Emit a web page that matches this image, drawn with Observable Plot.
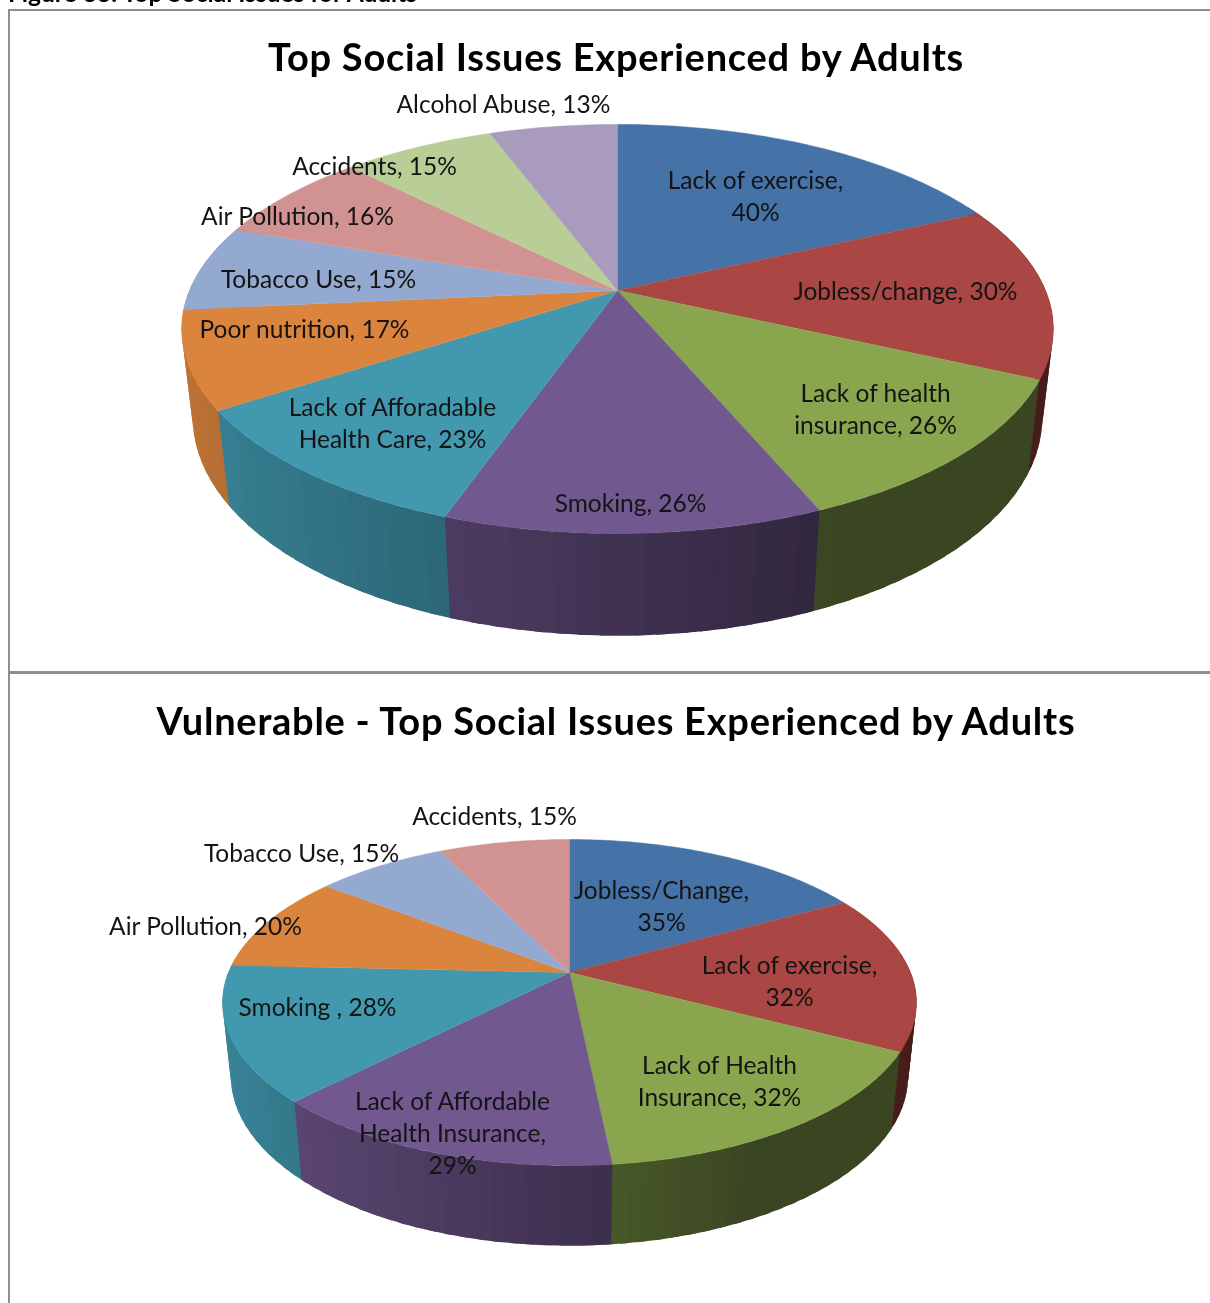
<!DOCTYPE html>
<html><head><meta charset="utf-8">
<script src="https://cdn.jsdelivr.net/npm/d3@7"></script>
<script src="https://cdn.jsdelivr.net/npm/@observablehq/plot@0.6"></script>
<style>
html,body{margin:0;padding:0;background:#fff;overflow:hidden;width:1210px;height:1303px}
#page{position:relative;width:1210px;height:1303px;overflow:hidden;font-family:Lato,sans-serif;filter:blur(0.35px)}
.rule{position:absolute;background:#8e8e8e}
.title{position:absolute;left:0;width:1232px;text-align:center;font-weight:700;color:#000;white-space:nowrap}
#cap{position:absolute;left:8px;top:-19px;font-size:24.5px;line-height:24px;font-weight:700;color:#000;white-space:nowrap}
svg{position:absolute;left:0;background:transparent}
</style></head><body><div id="page"></div>
<script>
const palette = ["#4572a7","#aa4643","#89a54e","#71588f","#4198af","#db843d","#93a9cf","#d19392","#b9cd96","#a99bbd"];

// slice sizes as measured from the slice boundaries; the printed labels round them
const adultValues = [40,30.4,26,26,23,17,15,16,15,12.6];
const adultLabels = ["Lack of exercise,\n40%","Jobless/change, 30%","Lack of health\ninsurance, 26%","Smoking, 26%","Lack of Afforadable\nHealth Care, 23%","Poor nutrition, 17%","Tobacco Use, 15%","Air Pollution, 16%","Accidents, 15%","Alcohol Abuse, 13%"];
const adultLabelX = [755,905,875,630,392,304,318,297,374,503];
const adultLabelY = [196,291,409,503,423,329,279,216,166,104];

const vulnerableValues = [35,32.3,32.35,28.85,27.55,20,15,15];
const vulnerableLabels = ["Jobless/Change,\n35%","Lack of exercise,\n32%","Lack of Health\nInsurance, 32%","Lack of Affordable\nHealth Insurance,\n29%","Smoking , 28%","Air Pollution, 20%","Tobacco Use, 15%","Accidents, 15%"];
const vulnerableLabelX = [661,789,719,452,317,205,301,494];
const vulnerableLabelY = [906,981,1081,1133,1007,926,853,816];

// perspective camera of each pie, in page pixels
const adultCamera = {cx:617, cy:290, k:428, a:197.3, c:-0.188, vanish:3870, t0:0.0274, t1:0.0000256, y0:408};
const vulnerableCamera = {cx:569, cy:972, k:341, a:157.5, c:-0.184, vanish:4100, t0:0.026, t1:0.00002, y0:1101};

const shade = d3.scaleLinear().domain([-1,-0.4,0.45,1]).range([0.88,0.7,0.42,0.42]).clamp(true);
function darker(col,f){const c=d3.rgb(col);return d3.rgb(c.r*f,c.g*f,c.b*f).formatHex();}

function rim(cam,th){
  const u=Math.sin(th), v=-Math.cos(th), d=1+cam.c*v;
  return [cam.cx+cam.k*u/d, cam.cy+cam.a*v/d];
}
function floor(cam,[x,y]){
  const t=cam.t0+cam.t1*(y-cam.y0);
  return [x+t*(cam.cx-x), y+t*(cam.vanish-y)];
}
function pieRows(values,cam){
  const total=d3.sum(values), bandsAll=[], top=[];
  const rad=Math.PI/180;
  let start=0;
  values.forEach((val,i)=>{
    const end=start+val/total*2*Math.PI, col=palette[i];
    const n=Math.max(1,Math.ceil((end-start)/rad));
    const face=`f${i}`;
    top.push({key:face,x:cam.cx,y:cam.cy,color:col});
    for(let j=0;j<=n;j++){
      const th=start+(end-start)*j/n, p=rim(cam,th);
      top.push({key:face,x:p[0],y:p[1],color:col});
    }
    // wall bands, each painted slightly towards the viewer; the nearer band covers the join
    const bands=Math.max(1,Math.ceil((end-start)/(2.5*rad)));
    for(let j=0;j<bands;j++){
      const a0=start+(end-start)*j/bands, a1=start+(end-start)*(j+1)/bands;
      const mid=(a0+a1)/2;
      if(Math.cos(mid)>=0.45) continue;
      const wc=darker(col,shade(Math.sin(mid)));
      const from=Math.sin(mid)>=0?a0:a0-rad*1.2, to=Math.sin(mid)>=0?a1+rad*1.2:a1;
      const upper=[];
      for(let s=0;s<=4;s++) upper.push(rim(cam,from+(to-from)*s/4));
      const lower=upper.map(p=>floor(cam,p)).reverse();
      bandsAll.push({depth:-Math.cos(mid),key:`w${i}-${j}`,wc,pts:upper.concat(lower)});
    }
    start=end;
  });
  const wall=d3.sort(bandsAll,b=>b.depth).flatMap(b=>b.pts.map(q=>({key:b.key,x:q[0],y:q[1],color:b.wc})));
  return {wall,top};
}
function chart(values,labels,lx,ly,cam,yTop,yBottom){
  const {wall,top}=pieRows(values,cam);
  const text=labels.map((t,i)=>({t,x:lx[i],y:ly[i]}));
  const svg=Plot.plot({
    width:1210,height:yBottom-yTop,margin:0,
    style:{background:"transparent"},
    x:{domain:[0,1210],range:[0,1210],axis:null},
    y:{domain:[yTop,yBottom],range:[0,yBottom-yTop],axis:null},
    color:{type:"identity"},
    marks:[
      Plot.line(wall,{x:"x",y:"y",z:"key",fill:"color",stroke:"none",curve:"linear"}),
      Plot.line(top,{x:"x",y:"y",z:"key",fill:"color",stroke:"color",strokeWidth:0.5,curve:"linear"}),
      Plot.text(text,{x:"x",y:"y",text:"t",dy:-2,fontSize:24.5,lineHeight:1.3,fontFamily:"Lato, sans-serif",fill:"#141414",textAnchor:"middle"})
    ]
  });
  svg.style.top=yTop+"px";
  return svg;
}
const page=document.getElementById("page");
function add(html){const t=document.createElement("template");t.innerHTML=html;page.appendChild(t.content.firstChild);}
add('<div id="cap">Figure 33: Top Social Issues for Adults</div>');
page.appendChild(chart(adultValues,adultLabels,adultLabelX,adultLabelY,adultCamera,0,672));
page.appendChild(chart(vulnerableValues,vulnerableLabels,vulnerableLabelX,vulnerableLabelY,vulnerableCamera,672,1303));
add('<div class="rule" style="left:8px;top:9px;width:1202px;height:2px"></div>');
add('<div class="rule" style="left:8px;top:9px;width:2px;height:1294px"></div>');
add('<div class="rule" style="left:8px;top:671px;width:1202px;height:3px"></div>');
add('<div class="title" style="top:32px;font-size:38px;line-height:48px;letter-spacing:0.75px">Top Social Issues Experienced by Adults</div>');
add('<div class="title" style="top:696px;font-size:38px;line-height:48px;letter-spacing:0.75px">Vulnerable - Top Social Issues Experienced by Adults</div>');
</script></body></html>
